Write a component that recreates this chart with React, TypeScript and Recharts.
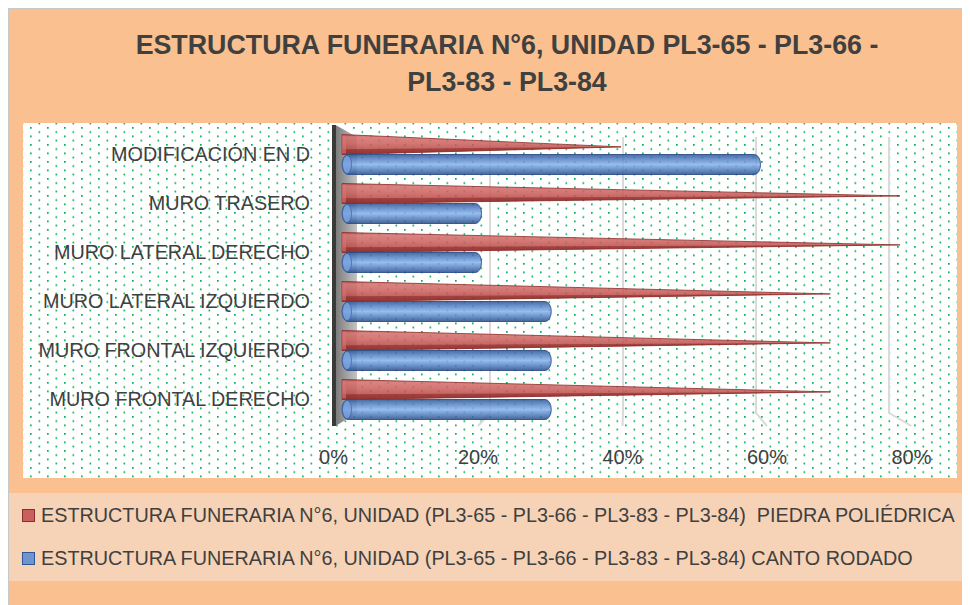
import React from 'react';
import { BarChart, Bar, XAxis, YAxis, CartesianGrid, Legend } from 'recharts';

// ---- data ----
const categories = [
  'MODIFICACIÓN EN D',
  'MURO TRASERO',
  'MURO LATERAL DERECHO',
  'MURO LATERAL IZQUIERDO',
  'MURO FRONTAL IZQUIERDO',
  'MURO FRONTAL DERECHO',
];
const piedraPoliedrica = [0.4, 0.8, 0.8, 0.7, 0.7, 0.7];
const cantoRodado = [0.6, 0.2, 0.2, 0.3, 0.3, 0.3];
const xTicks = [0, 0.2, 0.4, 0.6, 0.8];
const seriesNames = [
  'ESTRUCTURA FUNERARIA N°6, UNIDAD (PL3-65 - PL3-66 - PL3-83 - PL3-84)  PIEDRA POLIÉDRICA',
  'ESTRUCTURA FUNERARIA N°6, UNIDAD (PL3-65 - PL3-66 - PL3-83 - PL3-84) CANTO RODADO',
];
const titleLines = ['ESTRUCTURA FUNERARIA N°6, UNIDAD PL3-65 - PL3-66 -', 'PL3-83 - PL3-84'];

const data = categories.map((name, i) => ({
  name,
  piedra: piedraPoliedrica[i],
  canto: cantoRodado[i],
}));

// ---- layout / style ----
const FONT = '"Liberation Sans", Arial, sans-serif';
const TEXT = '#404040';
const W = 962;
const H = 597;
const YAXIS_W = 300;
const M = { top: 121.5, right: 70, bottom: 151.5, left: 34 };
const PLOT_LEFT = M.left + YAXIS_W;
// 3D perspective: back wall and front floor edge scales relative to the bar plane
const BACK_ORIGIN = 349;
const BACK_RATIO = 0.9534;
const FRONT_ORIGIN = 325.5;
const FRONT_RATIO = 1.0358;
const back = (bx: number) => BACK_ORIGIN + (bx - PLOT_LEFT) * BACK_RATIO;
const front = (bx: number) => FRONT_ORIGIN + (bx - PLOT_LEFT) * FRONT_RATIO;

const legendFill = ['#C9605D', '#6F95CE'];
const legendStroke = ['#8C2E2B', '#2F5597'];

const GridOrWall = (p: any) => {
  const top = Math.min(p.y1, p.y2);
  const bottom = Math.max(p.y1, p.y2);
  const bx = back(p.x1);
  const fx = front(p.x1);
  if (Math.abs(p.x1 - PLOT_LEFT) < 1) {
    return (
      <g key={p.key}>
        <polygon
          points={`${fx + 2},${top - 4.5} ${bx},${top + 7.5} ${bx},${bottom - 10.5} ${fx + 2},${bottom + 2.5}`}
          fill="url(#wallGrad)"
        />
        <rect x={fx - 1.5} y={top - 4.5} width={4} height={bottom - top + 7} fill="#3A3A3A" />
      </g>
    );
  }
  return (
    <path
      key={p.key}
      d={`M${bx},${top + 7.5}L${bx},${bottom - 10.5}L${fx},${bottom + 2.5}`}
      stroke="#DADADA"
      strokeWidth={2}
      fill="none"
    />
  );
};

const Cone = (p: any) => {
  const { x, y, width, height } = p;
  if (!width || width <= 0) return null;
  const tipY = y + height * 0.62;
  return (
    <g>
      <polygon
        points={`${x},${y} ${x + width},${tipY} ${x},${y + height}`}
        fill="url(#redGrad)"
        fillOpacity={0.86}
        stroke="#8B2B29"
        strokeWidth={0.8}
      />
      <polygon
        points={`${x},${y + height * 0.74} ${x + width},${tipY} ${x},${y + height}`}
        fill="#8A2A28"
        fillOpacity={0.6}
      />
      <rect x={x} y={y + 1} width={4} height={height - 2} fill="#D77774" fillOpacity={0.6} />
    </g>
  );
};

const Cylinder = (p: any) => {
  const { x, y, width, height } = p;
  if (!width || width <= 0) return null;
  const ry = height / 2;
  return (
    <g>
      <rect
        x={x}
        y={y}
        width={width}
        height={height}
        rx={6}
        ry={ry}
        fill="url(#blueGrad)"
        fillOpacity={0.86}
        stroke="#2C4E86"
        strokeWidth={0.9}
      />
      <ellipse
        cx={x + 5}
        cy={y + ry}
        rx={4.5}
        ry={ry - 0.8}
        fill="#7AA2DE"
        fillOpacity={0.8}
        stroke="#3A63A3"
        strokeWidth={0.7}
      />
    </g>
  );
};

const XTick = (p: any) => (
  <text
    x={front(p.x)}
    y={p.y}
    dy="0.71em"
    textAnchor="middle"
    fill={TEXT}
    fontSize={20}
    fontFamily={FONT}
  >
    {`${Math.round(p.payload.value * 100)}%`}
  </text>
);

const YTick = (p: any) => (
  <text
    x={p.x}
    y={p.y}
    dy="0.355em"
    textAnchor="end"
    fill={TEXT}
    fontSize={19.8}
    fontFamily={FONT}
  >
    {p.payload.value}
  </text>
);

const LegendContent = () => (
  <div style={{ fontFamily: FONT, fontSize: 19.8, color: TEXT }}>
    {seriesNames.map((n, i) => (
      <div
        key={n}
        style={{ height: 43, display: 'flex', alignItems: 'center', whiteSpace: 'pre' }}
      >
        <span
          style={{
            width: 11,
            height: 11,
            background: legendFill[i],
            border: `1.5px solid ${legendStroke[i]}`,
            marginRight: 6,
            flex: 'none',
          }}
        />
        <span>{n}</span>
      </div>
    ))}
  </div>
);

export default function App() {
  return (
    <div
      style={{
        position: 'relative',
        width: W,
        height: H,
        background: '#FAC08F',
        overflow: 'hidden',
      }}
    >
      <div
        style={{
          position: 'absolute',
          left: 0,
          top: 0,
          width: W,
          height: H,
          borderLeft: '1px solid #C8C8C8',
          borderTop: '1px solid #C8C8C8',
          boxSizing: 'border-box',
        }}
      />
      <svg width={W} height={H} style={{ position: 'absolute', left: 0, top: 0 }}>
        <defs>
          <pattern id="dots" x={22} y={119} width={17} height={8.5} patternUnits="userSpaceOnUse">
            <rect x={0} y={0} width={1.7} height={1.7} fill="#00B050" />
            <rect x={8.5} y={4.25} width={1.7} height={1.7} fill="#00B050" />
          </pattern>
          <linearGradient id="redGrad" x1="0" y1="0" x2="0" y2="1">
            <stop offset="0" stopColor="#A93B38" />
            <stop offset="0.12" stopColor="#D4706D" />
            <stop offset="0.45" stopColor="#CC605D" />
            <stop offset="0.75" stopColor="#B84A47" />
            <stop offset="1" stopColor="#8C2C2A" />
          </linearGradient>
          <linearGradient id="blueGrad" x1="0" y1="0" x2="0" y2="1">
            <stop offset="0" stopColor="#2E5190" />
            <stop offset="0.2" stopColor="#4F7CC0" />
            <stop offset="0.5" stopColor="#86B2EC" />
            <stop offset="0.8" stopColor="#4A76B8" />
            <stop offset="1" stopColor="#2A4A82" />
          </linearGradient>
          <linearGradient id="wallGrad" x1="0" y1="0" x2="1" y2="0">
            <stop offset="0" stopColor="#7A7A7A" />
            <stop offset="1" stopColor="#C4C4C4" />
          </linearGradient>
        </defs>
        <rect x={15} y={115} width={934} height={355} fill="#FFFFFF" />
        <rect x={15} y={115} width={934} height={355} fill="url(#dots)" />
        <rect x={1} y={485} width={960} height={88} fill="#F6D3B7" />
        {titleLines.map((t, i) => (
          <text
            key={t}
            x={499}
            y={46 + i * 37}
            textAnchor="middle"
            fontFamily={FONT}
            fontWeight="bold"
            fontSize={26.8}
            fill={TEXT}
          >
            {t}
          </text>
        ))}
      </svg>
      <div style={{ position: 'absolute', left: 0, top: 0 }}>
        <BarChart
          width={W}
          height={H}
          data={data}
          layout="vertical"
          margin={M}
          barSize={20}
          barGap={0}
        >
          <CartesianGrid horizontal={false} vertical={GridOrWall} />
          <XAxis
            type="number"
            domain={[0, 0.8]}
            ticks={xTicks}
            tick={<XTick />}
            tickLine={false}
            axisLine={false}
            tickSize={0}
            tickMargin={26}
            height={30}
          />
          <YAxis
            type="category"
            dataKey="name"
            width={YAXIS_W}
            tick={<YTick />}
            tickLine={false}
            axisLine={false}
            tickSize={0}
            tickMargin={32}
            interval={0}
          />
          <Bar
            dataKey="piedra"
            name={seriesNames[0]}
            fill={legendFill[0]}
            shape={Cone}
            isAnimationActive={false}
          />
          <Bar
            dataKey="canto"
            name={seriesNames[1]}
            fill={legendFill[1]}
            shape={Cylinder}
            isAnimationActive={false}
          />
          <Legend
            layout="horizontal"
            verticalAlign="middle"
            align="center"
            content={<LegendContent />}
            wrapperStyle={{ left: 14, top: 485.5, width: 945, height: 88 }}
          />
        </BarChart>
      </div>
    </div>
  );
}
